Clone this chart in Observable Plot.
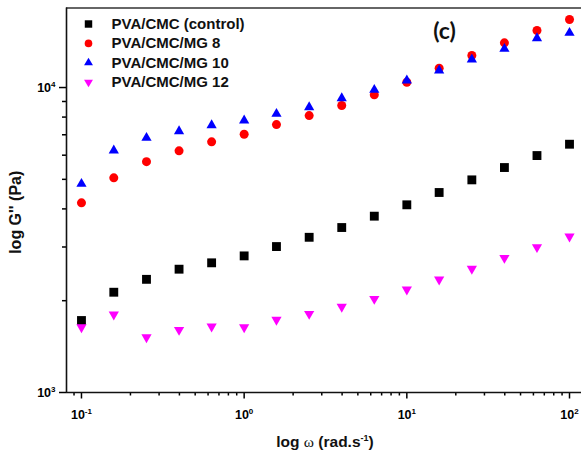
<!DOCTYPE html>
<html><head><meta charset="utf-8">
<script src="https://cdn.jsdelivr.net/npm/d3@7"></script>
<script src="https://cdn.jsdelivr.net/npm/@observablehq/plot@0.6"></script>
<style>
html,body{margin:0;padding:0;background:#fff;}
#chart{width:581px;height:458px;overflow:hidden;}
</style></head><body><div id="chart"></div>
<script>
// angular frequency (rad/s)
const omega = [0.1, 0.158, 0.251, 0.398, 0.631, 1, 1.58, 2.51, 3.98, 6.31, 10, 15.8, 25.1, 39.8, 63.1, 100];
const seriesNames = ["PVA/CMC (control)", "PVA/CMC/MG 8", "PVA/CMC/MG 10", "PVA/CMC/MG 12"];
const seriesColors = ["#000000", "#ff0000", "#0000ff", "#ff00ff"];
const seriesSymbols = ["square", "circle", "triangle", "triangle"];
const seriesRotate = [0, 0, 0, 180];
// G'' (Pa)
const control = [1722, 2132, 2350, 2537, 2662, 2805, 3010, 3228, 3475, 3786, 4125, 4527, 4980, 5466, 5984, 6518];
const mg8 = [4188, 5058, 5715, 6201, 6637, 7030, 7560, 8090, 8730, 9463, 10408, 11570, 12731, 14016, 15378, 16710];
const mg10 = [4833, 6215, 6840, 7190, 7522, 7796, 8197, 8618, 9224, 9827, 10543, 11370, 12354, 13395, 14508, 15114];
const mg12 = [1637, 1802, 1518, 1605, 1646, 1637, 1731, 1811, 1910, 2028, 2176, 2347, 2545, 2764, 2995, 3247];
const seriesValues = [control, mg8, mg10, mg12];
// axes
const xDomain = [0.0809, 118.5];
const yDomain = [1000, 18230];
const xMajorTicks = [0.1, 1, 10, 100];
const xTickLabels = ["10^-1", "10^0", "10^1", "10^2"];
const xMinorTicks = [0.09, 0.2, 0.3, 0.4, 0.5, 0.6, 0.7, 0.8, 0.9, 2, 3, 4, 5, 6, 7, 8, 9, 20, 30, 40, 50, 60, 70, 80, 90];
const yMajorTicks = [1000, 10000];
const yTickLabels = ["10^3", "10^4"];
const yMinorTicks = [2000, 3000, 4000, 5000, 6000, 7000, 8000, 9000];
const xTitle = "log ω (rad.s^-1)";
const yTitle = "log G'' (Pa)";
const panelLabel = "(c)";

const FONT = "'Liberation Sans', Arial, sans-serif";

const pointMarks = seriesNames.map((name, i) => Plot.dot(
  omega.map((w, j) => ({series: name, w, g: seriesValues[i][j]})),
  {x: "w", y: "g", symbol: () => seriesSymbols[i], fill: seriesColors[i],
   r: seriesSymbols[i] === "square" ? 5 : seriesSymbols[i] === "circle" ? 4.5 : 3.8,
   rotate: seriesRotate[i]}
));

const legendMarks = seriesNames.flatMap((name, i) => [
  Plot.dot([name], {frameAnchor: "top-left", dx: 22, dy: 16 + i * 19.4,
    symbol: () => seriesSymbols[i], fill: seriesColors[i],
    r: seriesSymbols[i] === "square" ? 4.2 : seriesSymbols[i] === "circle" ? 3.8 : 3.3,
    rotate: seriesRotate[i]}),
  Plot.text([name], {frameAnchor: "top-left", dx: 45, dy: 16 + i * 19.4, text: d => d,
    textAnchor: "start", lineAnchor: "middle", fontSize: 15, fontWeight: "bold", fontFamily: FONT, fill: "#111"})
]);

const chart = Plot.plot({
  width: 581, height: 458,
  marginLeft: 66, marginRight: 0, marginTop: 7.5, marginBottom: 66,
  style: {fontFamily: FONT, background: "#fff", overflow: "visible"},
  x: {type: "log", domain: xDomain, range: [66, 581], label: null},
  y: {type: "log", domain: yDomain, range: [392, 7.5], label: null},
  marks: [
    Plot.axisX({ticks: xMinorTicks, tickSize: 3.5, tickFormat: () => "", strokeWidth: 1.5, label: null}),
    Plot.axisX({ticks: xMajorTicks, tickSize: 6.5, tickPadding: 11, strokeWidth: 1.5,
      tickFormat: d => xTickLabels[xMajorTicks.indexOf(d)], fontSize: 12.5, fontWeight: "bold", label: null}),
    Plot.axisY({ticks: yMinorTicks, tickSize: 4, tickFormat: () => "", strokeWidth: 1.5, label: null}),
    Plot.axisY({ticks: yMajorTicks, tickSize: 7, tickPadding: 4, strokeWidth: 1.5,
      tickFormat: d => yTickLabels[yMajorTicks.indexOf(d)], fontSize: 12.5, fontWeight: "bold", label: null}),
    Plot.ruleY([yDomain[0]], {stroke: "#111", strokeWidth: 1.6}),
    Plot.ruleY([yDomain[1]], {stroke: "#333", strokeWidth: 1.6}),
    Plot.ruleX([xDomain[0]], {stroke: "#111", strokeWidth: 1.6}),
    ...pointMarks,
    ...legendMarks,
    Plot.text([panelLabel], {frameAnchor: "top-left", dx: 378, dy: 23.5, text: d => d, textAnchor: "middle",
      fontSize: 23, fontWeight: "bold", fontFamily: "Lato, 'Open Sans', sans-serif", lineAnchor: "middle", fill: "#111"}),
    Plot.text([xTitle], {frameAnchor: "bottom", dx: 1, dy: 50, text: d => d, textAnchor: "middle",
      fontSize: 15.5, fontWeight: "bold", lineAnchor: "middle", fill: "#111"}),
    Plot.text([yTitle], {frameAnchor: "left", dx: -51, dy: 12, text: d => d, rotate: -90, textAnchor: "middle",
      fontSize: 16, fontWeight: "bold", lineAnchor: "middle", fill: "#111"})
  ]
});

// superscripts in tick labels and title
const NS = "http://www.w3.org/2000/svg";
function tspan(parent, txt, attrs) {
  const t = document.createElementNS(NS, "tspan");
  for (const k in attrs) t.setAttribute(k, attrs[k]);
  t.textContent = txt;
  parent.appendChild(t);
  return t;
}
chart.querySelectorAll("text").forEach(t => {
  const s = t.textContent;
  const m = s.match(/^10\^(-?\d+)$/);
  if (m) {
    t.textContent = "";
    tspan(t, "10", {});
    tspan(t, m[1], {dy: "-5", "font-size": "8"});
  } else if (s === xTitle) {
    t.textContent = "";
    tspan(t, "log ", {});
    tspan(t, "ω", {"font-family": "'Liberation Serif', serif", "font-weight": "normal"});
    tspan(t, " (rad.s", {});
    tspan(t, "-1", {dy: "-6", "font-size": "9"});
    tspan(t, ")", {dy: "6"});
  }
});
document.getElementById("chart").appendChild(chart);
</script></body></html>
